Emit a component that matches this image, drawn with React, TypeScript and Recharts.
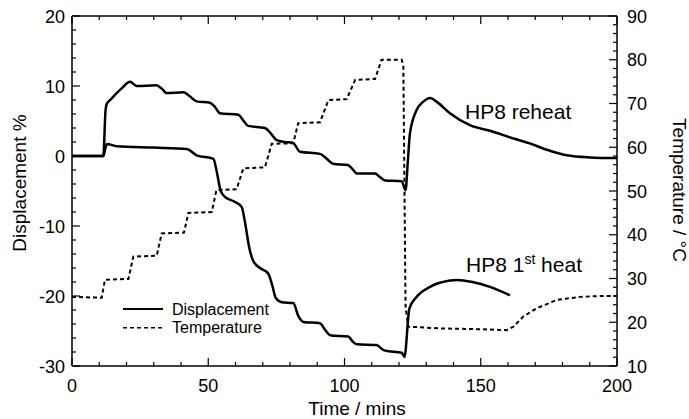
import { LineChart, Line, XAxis, YAxis, Legend, Customized } from "recharts";

const FONT = "'Liberation Sans', Arial, sans-serif";

// HP8 reheat displacement (%)
const reheatTime = [0, 11.5, 12.3, 12.8, 14, 18.3, 21.3, 23.7, 31, 33, 34.7, 40.9, 43, 45.7, 50.6, 52.5, 54.3, 61, 63, 64.6, 70.8, 73, 75, 78, 81, 83.7, 91, 93.5, 95.8, 101.3, 103, 104.5, 111.2, 113, 114.9, 121, 122.4, 123.2, 124, 126.5, 129, 131.4, 134, 138.7, 146, 153.4, 162, 168, 174.2, 181.5, 190, 200];
const reheatDisp = [0, 0, 6.5, 7.5, 8, 9.7, 10.6, 10, 10.1, 9.6, 9.0, 9.1, 8.6, 7.8, 7.6, 7, 6.1, 5.9, 5, 4.3, 4.0, 3.2, 2.3, 2.0, 1.9, 0.6, 0.3, -0.4, -1.1, -1.3, -1.9, -2.5, -2.5, -3.0, -3.5, -3.6, -4.9, -1, 3.2, 6.6, 7.8, 8.3, 7.7, 6.1, 4.4, 3.6, 2.5, 1.8, 0.9, 0.1, -0.2, -0.3];

// HP8 1st heat displacement (%)
const heatTime = [0, 11.5, 12.3, 12.8, 16.4, 30, 42.1, 45.7, 51.9, 53, 54.5, 56, 59.5, 62.3, 63.5, 65, 66.5, 69, 72, 73.5, 74.8, 77, 81.2, 83, 84.9, 91, 93, 94.7, 101.4, 103, 104.5, 111.8, 113.5, 114.9, 121, 122, 123.8, 126.5, 131.4, 138.7, 141.2, 147, 153.4, 160.7];
const heatDisp = [0, 0, 1.2, 1.7, 1.4, 1.2, 1.0, 0.1, -0.4, -2.0, -4.9, -5.8, -6.5, -7.3, -9.5, -13, -15, -16.0, -16.8, -18.5, -20.3, -20.9, -21.0, -22.8, -23.7, -23.9, -24.9, -25.6, -25.8, -26.5, -26.9, -27.0, -27.5, -27.8, -28.1, -28.7, -21.8, -20.1, -18.7, -17.8, -17.7, -18.0, -18.7, -19.9];

// temperature (°C)
const tempTime = [0, 10.9, 12.1, 20.7, 22.5, 31.1, 32.9, 41.1, 42.7, 51.3, 53, 60.4, 62.9, 70.8, 73.3, 81.2, 83, 91, 94.1, 100.8, 103.9, 111.2, 113.6, 121, 121.6, 122.4, 123.4, 135, 149.7, 159.5, 162, 165.6, 170.5, 177.9, 186.4, 193.8, 200];
const tempVal = [25.8, 25.6, 29.7, 29.9, 35.0, 35.2, 40.3, 40.5, 45.0, 45.2, 50.2, 50.4, 55.2, 55.4, 60.8, 60.9, 65.5, 65.7, 70.8, 71.0, 75.4, 75.6, 80.0, 80.0, 78.4, 23.6, 19.0, 18.6, 18.4, 18.2, 19.0, 21.3, 23.2, 25.1, 25.8, 26.0, 26.0];

const timeTicks = Array.from({ length: 21 }, (_, i) => i * 10);
const dispTicks = Array.from({ length: 26 }, (_, i) => -30 + i * 2);
const tempTicks = Array.from({ length: 41 }, (_, i) => 10 + i * 2);

const zip = (t: number[], v: number[]) => t.map((x, i) => ({ t: x, v: v[i] }));
const reheatData = zip(reheatTime, reheatDisp);
const heatData = zip(heatTime, heatDisp);
const tempData = zip(tempTime, tempVal);

const txt = { fontFamily: FONT, fontSize: 18, fill: "#000" };

function BottomTick({ x, y, payload }: any) {
  const major = payload.value % 50 === 0;
  return (
    <g>
      <line x1={x} x2={x} y1={y} y2={y - (major ? 8 : 4)} stroke="#000" strokeWidth={1.2} />
      {major && (
        <text x={x} y={y + 26} textAnchor="middle" {...txt}>
          {payload.value}
        </text>
      )}
    </g>
  );
}

function TopTick({ x, y, payload }: any) {
  const major = payload.value % 50 === 0;
  return <line x1={x} x2={x} y1={y} y2={y + (major ? 8 : 4)} stroke="#000" strokeWidth={1.2} />;
}

function LeftTick({ x, y, payload }: any) {
  const major = payload.value % 10 === 0;
  return (
    <g>
      <line x1={x} x2={x + (major ? 8 : 4)} y1={y} y2={y} stroke="#000" strokeWidth={1.2} />
      {major && (
        <text x={x - 7} y={y + 6.5} textAnchor="end" {...txt}>
          {payload.value}
        </text>
      )}
    </g>
  );
}

function RightTick({ x, y, payload }: any) {
  const major = payload.value % 10 === 0;
  return (
    <g>
      <line x1={x} x2={x - (major ? 8 : 4)} y1={y} y2={y} stroke="#000" strokeWidth={1.2} />
      {major && (
        <text x={x + 10} y={y + 6.5} textAnchor="start" {...txt}>
          {payload.value}
        </text>
      )}
    </g>
  );
}

function LegendBox({ payload }: any) {
  const items = (payload || []).filter((p: any) => p.type !== "none");
  return (
    <svg width={170} height={42} style={{ display: "block" }}>
      {items.map((p: any, i: number) => (
        <g key={p.value}>
          <line
            x1={3}
            x2={43}
            y1={9 + i * 18.7}
            y2={9 + i * 18.7}
            stroke="#000"
            strokeWidth={p.payload?.strokeDasharray ? 1.6 : 2}
            strokeDasharray={p.payload?.strokeDasharray}
          />
          <text x={52} y={15 + i * 18} fontFamily={FONT} fontSize={16} fill="#000">
            {p.value}
          </text>
        </g>
      ))}
    </svg>
  );
}

function Annotations() {
  return (
    <g fontFamily={FONT} fontSize={21} fill="#000">
      <text x={465} y={119}>HP8 reheat</text>
      <text x={466} y={272}>
        HP8 1<tspan fontSize={14} dy={-8}>st</tspan>
        <tspan dy={8}> heat</tspan>
      </text>
    </g>
  );
}

export default function App() {
  return (
    <div style={{ position: "absolute", left: 0, top: 0 }}>
      <LineChart width={689} height={419} margin={{ top: 0, right: 0, bottom: 0, left: 0 }}>
        <XAxis
          xAxisId="b"
          dataKey="t"
          type="number"
          domain={[0, 200]}
          ticks={timeTicks}
          interval={0}
          allowDataOverflow
          height={53}
          tickSize={0}
          tickMargin={0}
          tick={BottomTick}
          axisLine={{ stroke: "#000", strokeWidth: 1.5 }}
          label={{
            content: () => (
              <text x={357} y={415} textAnchor="middle" fontFamily={FONT} fontSize={19} fill="#000">
                Time / mins
              </text>
            ),
          }}
        />
        <XAxis
          xAxisId="top"
          dataKey="t"
          type="number"
          orientation="top"
          domain={[0, 200]}
          ticks={timeTicks}
          interval={0}
          allowDataOverflow
          height={16}
          tickSize={0}
          tickMargin={0}
          tick={TopTick}
          axisLine={{ stroke: "#000", strokeWidth: 1.5 }}
        />
        <YAxis
          yAxisId="d"
          type="number"
          domain={[-30, 20]}
          ticks={dispTicks}
          interval={0}
          allowDataOverflow
          width={72}
          tickSize={0}
          tickMargin={0}
          tick={LeftTick}
          axisLine={{ stroke: "#000", strokeWidth: 1.5 }}
          label={{
            content: () => (
              <text
                transform="translate(19,183) rotate(-90)"
                textAnchor="middle"
                dominantBaseline="central"
                fontFamily={FONT}
                fontSize={19}
                fill="#000"
              >
                Displacement %
              </text>
            ),
          }}
        />
        <YAxis
          yAxisId="t"
          orientation="right"
          type="number"
          domain={[10, 90]}
          ticks={tempTicks}
          interval={0}
          allowDataOverflow
          width={72}
          tickSize={0}
          tickMargin={0}
          tick={RightTick}
          axisLine={{ stroke: "#000", strokeWidth: 1.5 }}
          label={{
            content: () => (
              <text
                transform="translate(679,190) rotate(90)"
                textAnchor="middle"
                dominantBaseline="central"
                fontFamily={FONT}
                fontSize={19}
                fill="#000"
              >
                Temperature / °C
              </text>
            ),
          }}
        />
        <Line
          xAxisId="b"
          yAxisId="d"
          data={reheatData}
          dataKey="v"
          name="Displacement"
          type="monotone"
          stroke="#000"
          strokeWidth={2.5}
          dot={false}
          isAnimationActive={false}
        />
        <Line
          xAxisId="b"
          yAxisId="d"
          data={heatData}
          dataKey="v"
          name="Displacement 1st"
          legendType="none"
          type="monotone"
          stroke="#000"
          strokeWidth={2.5}
          dot={false}
          isAnimationActive={false}
        />
        <Line
          xAxisId="b"
          yAxisId="t"
          data={tempData}
          dataKey="v"
          name="Temperature"
          type="linear"
          stroke="#000"
          strokeWidth={2}
          strokeDasharray="4 3"
          dot={false}
          isAnimationActive={false}
        />
        <Legend
          layout="horizontal"
          verticalAlign="middle"
          align="center"
          content={LegendBox}
          wrapperStyle={{ position: "absolute", left: 120, top: 300, width: 170 }}
        />
        <Customized component={Annotations} />
      </LineChart>
    </div>
  );
}
